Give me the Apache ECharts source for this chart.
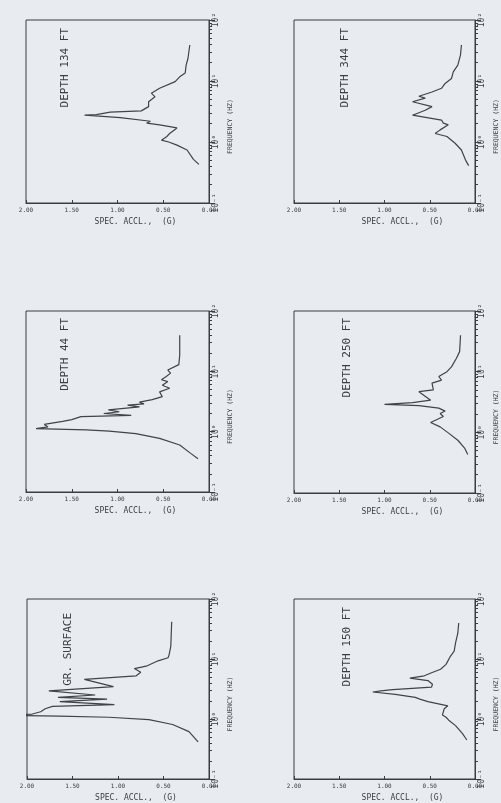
<!DOCTYPE html>
<html>
<head>
<meta charset="utf-8">
<script src="https://cdn.jsdelivr.net/npm/echarts@6/dist/echarts.min.js"></script>
<style>
  html, body { margin: 0; padding: 0; background: #e8ebf0; }
  #chart { width: 501px; height: 803px; }
</style>
</head>
<body>
<div id="chart"></div>
<script>
  // 各测点谱加速度 (频率 Hz / 加速度 G)
  var freq134 = [0.43, 0.52, 0.74, 0.89, 1.0, 1.07, 1.23, 1.38, 1.70, 1.91, 2.04, 2.19, 2.51, 2.75, 2.82, 3.09, 3.24, 3.80, 4.57, 5.50, 6.31, 7.59, 9.77, 11.7, 13.5, 18.2, 23.4, 38.9];
  var acc134 = [0.11, 0.17, 0.24, 0.35, 0.44, 0.52, 0.46, 0.43, 0.35, 0.54, 0.68, 0.64, 0.97, 1.36, 1.23, 1.08, 0.74, 0.66, 0.66, 0.59, 0.63, 0.54, 0.37, 0.32, 0.26, 0.25, 0.23, 0.21];

  var freq344 = [0.41, 0.49, 0.74, 0.955, 1.23, 1.38, 1.58, 1.91, 2.04, 2.29, 2.75, 3.31, 3.80, 4.57, 5.25, 5.62, 6.61, 7.59, 9.12, 11.0, 14.1, 18.2, 26.9, 38.9];
  var acc344 = [0.07, 0.10, 0.15, 0.22, 0.31, 0.44, 0.385, 0.295, 0.35, 0.37, 0.69, 0.55, 0.475, 0.69, 0.55, 0.62, 0.475, 0.37, 0.33, 0.26, 0.24, 0.19, 0.16, 0.15];

  var freq44 = [0.355, 0.437, 0.60, 0.776, 0.93, 1.02, 1.07, 1.10, 1.12, 1.20, 1.32, 1.48, 1.58, 1.78, 1.86, 2.0, 2.14, 2.29, 2.57, 2.75, 2.88, 3.09, 3.39, 3.80, 4.57, 5.25, 5.89, 6.76, 7.24, 8.13, 9.33, 10.5, 12.9, 18.6, 39.8];
  var acc44 = [0.12, 0.20, 0.32, 0.54, 0.80, 1.09, 1.34, 1.67, 1.89, 1.76, 1.80, 1.60, 1.50, 1.40, 0.85, 1.15, 0.98, 1.10, 0.76, 0.89, 0.71, 0.76, 0.62, 0.51, 0.54, 0.43, 0.51, 0.45, 0.52, 0.47, 0.42, 0.45, 0.33, 0.32, 0.32];

  var freq250 = [0.43, 0.55, 0.74, 0.98, 1.23, 1.45, 1.82, 2.04, 2.24, 2.51, 2.75, 2.88, 3.09, 3.39, 4.68, 5.01, 6.46, 7.24, 8.32, 10.0, 12.0, 16.6, 21.4, 39.8];
  var acc250 = [0.08, 0.115, 0.19, 0.295, 0.385, 0.49, 0.35, 0.385, 0.33, 0.40, 0.62, 1.0, 0.69, 0.49, 0.62, 0.46, 0.475, 0.37, 0.40, 0.31, 0.26, 0.205, 0.17, 0.16];

  var freqSurf = [0.417, 0.617, 0.81, 0.977, 1.07, 1.12, 1.15, 1.20, 1.32, 1.48, 1.62, 1.74, 1.95, 2.14, 2.29, 2.51, 2.95, 3.47, 4.57, 5.25, 6.03, 6.92, 7.59, 9.33, 10.5, 11.5, 16.2, 41.7];
  var accSurf = [0.12, 0.22, 0.40, 0.66, 1.10, 1.65, 2.25, 1.95, 1.85, 1.80, 1.72, 1.04, 1.64, 1.12, 1.66, 1.25, 1.76, 1.05, 1.37, 0.80, 0.75, 0.82, 0.69, 0.56, 0.45, 0.44, 0.42, 0.41];

  var freq150 = [0.447, 0.575, 0.776, 0.955, 1.07, 1.17, 1.48, 1.66, 1.78, 1.95, 2.14, 2.29, 2.57, 2.82, 2.95, 3.09, 3.39, 3.80, 4.37, 4.79, 5.25, 5.89, 6.76, 8.13, 11.2, 13.5, 18.6, 26.9, 39.8];
  var acc150 = [0.09, 0.14, 0.215, 0.29, 0.32, 0.36, 0.34, 0.30, 0.29, 0.52, 0.61, 0.66, 0.88, 1.13, 1.04, 0.91, 0.48, 0.47, 0.52, 0.72, 0.56, 0.48, 0.38, 0.32, 0.27, 0.23, 0.215, 0.19, 0.18];

  var titles = ['DEPTH 134 FT', 'DEPTH 344 FT', 'DEPTH 44 FT', 'DEPTH 250 FT', 'GR. SURFACE', 'DEPTH 150 FT'];
  var freqList = [freq134, freq344, freq44, freq250, freqSurf, freq150];
  var accList = [acc134, acc344, acc44, acc250, accSurf, acc150];

  var freqMajor = [0.1, 1, 10, 100];
  var freqLabels = ['10⁻¹', '10⁰', '10¹', '10²'];
  var freqMinor = [0.2, 0.3, 0.4, 0.5, 0.6, 0.7, 0.8, 0.9, 2, 3, 4, 5, 6, 7, 8, 9, 20, 30, 40, 50, 60, 70, 80, 90];

  // 布局 [left, top, width, height] 与标题位置
  var boxes = [[26, 20, 183, 183], [294, 20, 185, 183], [26, 311, 183, 181], [294, 311, 185, 182], [27, 599, 182, 182], [294, 599, 186, 182]];
  var titlePos = [[65, 28], [345, 28], [65, 318], [347, 318], [68, 613], [347, 607]];

  var ink = '#3a3d42';
  var mono = 'DejaVu Sans Mono';

  var charts = echarts.init(document.getElementById('chart'));
  var grid = [], xAxis = [], yAxis = [], series = [], graphic = [];

  boxes.forEach(function (b, i) {
    grid.push({
      left: b[0], top: b[1], width: b[2], height: b[3],
      show: true, borderColor: ink, borderWidth: 1, backgroundColor: 'transparent'
    });
    xAxis.push({
      gridIndex: i, type: 'value', min: 0, max: 2, interval: 0.5, inverse: true,
      axisLine: { show: true, lineStyle: { color: ink, width: 1 } },
      axisTick: { show: true, inside: true, length: 3, lineStyle: { color: ink } },
      axisLabel: {
        color: ink, fontSize: 6, fontFamily: mono, margin: 4,
        formatter: function (v) { return v.toFixed(2); }
      },
      splitLine: { show: false },
      name: 'SPEC. ACCL.,  (G)', nameLocation: 'middle', nameGap: 15,
      nameTextStyle: { color: ink, fontSize: 8, fontFamily: mono, padding: [0, 0, 0, 36] }
    });
    yAxis.push({
      gridIndex: i, type: 'log', logBase: 10, min: 0.1, max: 100, position: 'right',
      axisLine: { show: true, onZero: false, lineStyle: { color: ink, width: 1 } },
      axisTick: { show: true, length: 3, customValues: freqMinor, lineStyle: { color: ink } },
      axisLabel: {
        show: true, rotate: 90, customValues: freqMajor, color: ink, fontSize: 8, fontFamily: mono, margin: 3,
        formatter: function (v) { return freqLabels[Math.round(Math.log10(v)) + 1]; }
      },
      splitLine: { show: false },
      name: 'FREQUENCY (HZ)', nameLocation: 'middle', nameRotate: 90, nameGap: 18,
      nameTextStyle: { color: ink, fontSize: 6.5, fontFamily: mono, padding: [0, 30, 0, 0] }
    });
    // 十倍频程长刻度
    yAxis.push({
      gridIndex: i, type: 'log', logBase: 10, min: 0.1, max: 100, position: 'right',
      axisLine: { show: false },
      axisTick: { show: true, length: 6, customValues: freqMajor, lineStyle: { color: ink } },
      axisLabel: { show: false },
      splitLine: { show: false }
    });
    series.push({
      type: 'line', xAxisIndex: i, yAxisIndex: i * 2,
      data: freqList[i].map(function (f, k) { return [accList[i][k], f]; }),
      symbol: 'none', clip: false,
      lineStyle: { color: '#404348', width: 1.2 }
    });
    graphic.push({
      type: 'text', x: titlePos[i][0], y: titlePos[i][1], rotation: Math.PI / 2,
      style: {
        text: titles[i], fill: ink, font: '11px "DejaVu Sans Mono"',
        textAlign: 'right', textVerticalAlign: 'middle'
      }
    });
  });

  var option = {
    backgroundColor: '#e8ebf0',
    animation: false,
    grid: grid,
    xAxis: xAxis,
    yAxis: yAxis,
    series: series,
    graphic: graphic
  };
  charts.setOption(option);
</script>
</body>
</html>
